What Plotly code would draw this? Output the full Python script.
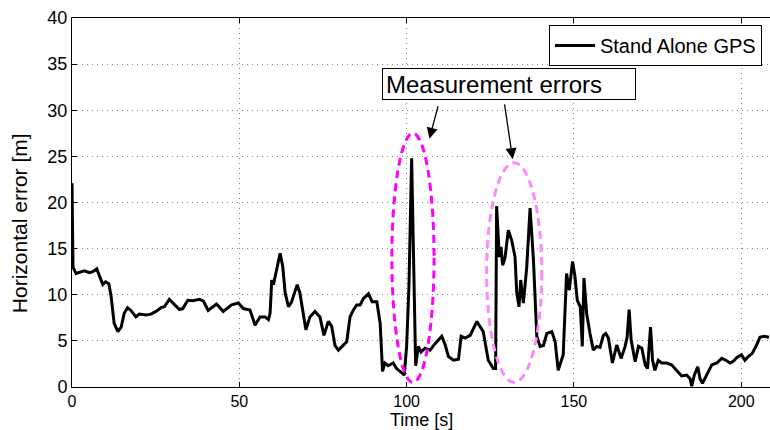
import plotly.graph_objects as go

# ---- data ----
time_s = [0, 0.3, 1.2, 3.7, 5.2, 6.2, 7.4, 8.2, 9.2, 10.0, 11.0, 11.7, 12.6, 13.7, 14.7, 15.6,
          16.6, 17.6, 19.1, 20.1, 22.1, 23.6, 25.1, 26.6, 27.6, 29.1, 30.6, 32.1, 33.1, 34.6,
          36.1, 38.1, 39.3, 40.7, 43.2, 45.2, 47.7, 49.7, 51.2, 53.2, 54.7, 56.2, 57.7, 58.7,
          59.2, 59.7, 60.2, 61.2, 62.2, 63.0, 63.7, 64.7, 65.6, 67.3, 68.1, 69.9, 71.1, 72.6,
          74.1, 75.3, 76.6, 77.6, 78.6, 79.6, 81.1, 82.1, 83.1, 84.1, 85.1, 86.1, 87.1, 88.6,
          89.7, 91.1, 92.1, 92.8, 93.5, 94.5, 96.0, 97.0, 98.5, 99.3, 100.0, 100.7, 101.5,
          102.0, 102.7, 103.5, 104.3, 105.5, 107.0, 108.5, 110.5, 111.5, 112.5, 114.0, 115.5,
          116.3, 117.5, 119.0, 121.0, 122.9, 124.4, 125.9, 126.6, 126.9, 127.7, 128.2, 128.7,
          129.4, 130.4, 131.4, 132.4, 132.9, 133.6, 134.1, 134.9, 135.9, 136.9, 137.9, 138.9,
          139.9, 140.9, 141.9, 143.4, 144.4, 145.3, 146.8, 147.3, 147.8, 148.6, 149.6, 150.3,
          151.0, 151.9, 152.5, 153.0, 153.8, 154.8, 155.8, 156.8, 157.8, 158.8, 159.5, 160.3,
          161.5, 162.8, 164.1, 165.3, 165.9, 166.5, 167.1, 168.3, 169.3, 170.3, 171.3, 172.0,
          172.9, 173.5, 174.2, 175.2, 176.2, 177.7, 179.2, 180.7, 182.2, 183.7, 184.7, 185.2,
          186.0, 187.0, 187.7, 188.4, 189.7, 191.2, 192.7, 194.2, 195.4, 196.7, 197.7, 198.7,
          200.1, 201.1, 202.1, 203.3, 204.6, 205.6, 206.9, 208.3]
horiz_err = [22.1, 13.0, 12.3, 12.6, 12.4, 12.5, 12.8, 12.1, 11.1, 11.4, 11.2, 9.8, 6.9, 6.0, 6.5, 8.0,
             8.6, 8.3, 7.6, 7.9, 7.8, 7.9, 8.2, 8.6, 8.7, 9.5, 8.9, 8.4, 8.5, 9.4,
             9.35, 9.5, 9.3, 8.3, 9.0, 8.2, 8.9, 9.1, 8.5, 8.35, 6.7, 7.6, 7.6, 7.3,
             8.0, 11.6, 11.1, 12.7, 14.5, 13.0, 10.2, 8.7, 9.2, 11.1, 10.2, 6.2, 7.6, 8.2,
             7.6, 5.6, 7.1, 6.6, 4.5, 4.0, 4.55, 4.9, 7.6, 8.35, 8.9, 8.9, 9.6, 10.1,
             9.25, 9.25, 6.9, 1.7, 2.6, 2.3, 2.6, 2.0, 1.55, 1.3, 4.4, 10.9, 24.8,
             16.3, 2.3, 4.4, 3.8, 4.2, 4.0, 4.7, 5.5, 4.6, 3.3, 2.9, 3.0,
             5.5, 5.3, 5.6, 7.1, 6.0, 2.9, 2.0, 2.0, 19.6, 14.1, 15.2, 13.2,
             14.0, 17.0, 15.9, 14.1, 10.3, 8.7, 11.6, 9.1, 13.0, 19.4, 13.8, 5.5,
             4.4, 4.5, 5.8, 6.0, 4.9, 1.8, 3.5, 9.1, 12.3, 10.5, 13.6, 12.0,
             9.4, 8.7, 4.4, 11.8, 8.0, 5.8, 4.0, 4.4, 4.3, 5.6, 5.8, 5.3,
             2.6, 4.55, 3.1, 4.4, 5.4, 8.4, 5.1, 2.75, 4.4, 4.2, 2.4, 2.0,
             6.5, 2.9, 1.8, 2.9, 2.6, 2.6, 2.4, 1.8, 1.2, 1.3, 0.9, 0.1,
             1.3, 2.2, 0.9, 0.4, 1.3, 2.4, 2.6, 3.1, 2.9, 2.6, 2.8, 3.2,
             3.5, 2.9, 3.3, 3.65, 4.55, 5.4, 5.5, 5.4]

series_name = "Stand Alone GPS"
x_title = "Time [s]"
y_title = "Horizontal error [m]"
note_text = "Measurement errors"
x_ticks = [0, 50, 100, 150, 200]
y_ticks = [0, 5, 10, 15, 20, 25, 30, 35, 40]

# ellipse regions (data coords) and arrows (tail -> head)
ellipse1 = dict(x0=95.6, x1=108.2, y0=0.5, y1=27.5)
ellipse2 = dict(x0=123.9, x1=140.4, y0=0.5, y1=24.3)
arrow1 = dict(tx=109.5, ty=30.6, hx=106.8, hy=26.9)
arrow2 = dict(tx=129.2, ty=30.8, hx=131.7, hy=24.7)
note_pos = dict(x=130.6, y=32.8)

FONT = "Liberation Sans, Arial, Helvetica, sans-serif"

fig = go.Figure()
fig.add_trace(go.Scatter(x=time_s, y=horiz_err, mode="lines", name=series_name,
                         line=dict(color="black", width=3)))

fig.add_shape(type="circle", xref="x", yref="y", **ellipse1,
              line=dict(color="#ff00ff", width=3, dash="8px,5px"))
fig.add_shape(type="circle", xref="x", yref="y", **ellipse2,
              line=dict(color="#ff88ff", width=3, dash="8px,5px"))

for a in (arrow1, arrow2):
    fig.add_annotation(x=a["hx"], y=a["hy"], ax=a["tx"], ay=a["ty"],
                       xref="x", yref="y", axref="x", ayref="y",
                       text="", showarrow=True, arrowhead=2, arrowsize=1.7,
                       arrowwidth=1.3, arrowcolor="black")

fig.add_annotation(x=note_pos["x"], y=note_pos["y"], xref="x", yref="y",
                   text=note_text, showarrow=False,
                   font=dict(family=FONT, size=24, color="black"),
                   bgcolor="white", bordercolor="black", borderwidth=1,
                   borderpad=3, width=246, height=24, align="left")

# axis titles as annotations for exact placement
fig.add_annotation(x=0.5, y=0, xref="paper", yref="paper", xanchor="center", yanchor="bottom",
                   yshift=-44, text=x_title, showarrow=False, borderpad=0,
                   font=dict(family=FONT, size=18, color="black"))
fig.add_annotation(x=0, y=0.444, xref="paper", yref="paper", xanchor="center", yanchor="middle",
                   xshift=-53, text=y_title, textangle=-90, showarrow=False,
                   font=dict(family=FONT, size=21, color="black"))

fig.update_xaxes(range=[0, 208.6], tickvals=x_ticks, ticks="inside", ticklen=5,
                 tickcolor="black", showline=True, linecolor="black", linewidth=1,
                 mirror="ticks", showgrid=True, gridcolor="#888888", gridwidth=1,
                 griddash="1px,4px", zeroline=False,
                 tickfont=dict(family=FONT, size=16, color="black"))
fig.update_yaxes(range=[0, 40], tickvals=y_ticks, ticks="inside", ticklen=5,
                 tickcolor="black", showline=True, linecolor="black", linewidth=1,
                 showgrid=True, gridcolor="#888888", gridwidth=1,
                 griddash="1px,4px", zeroline=False,
                 tickfont=dict(family=FONT, size=18, color="black"))

fig.update_layout(
    width=770, height=430,
    margin=dict(l=72, r=0, t=18, b=43),
    paper_bgcolor="white", plot_bgcolor="white",
    showlegend=True,
    legend=dict(x=0.9885, y=0.981, xanchor="right", yanchor="top",
                bgcolor="white", bordercolor="black", borderwidth=1,
                font=dict(family=FONT, size=20, color="black"),
                itemwidth=40, tracegroupgap=0),
)

fig.write_html("out.html", config={"displayModeBar": False},
               post_script="document.body.style.margin='0';document.body.style.overflow='hidden';")
